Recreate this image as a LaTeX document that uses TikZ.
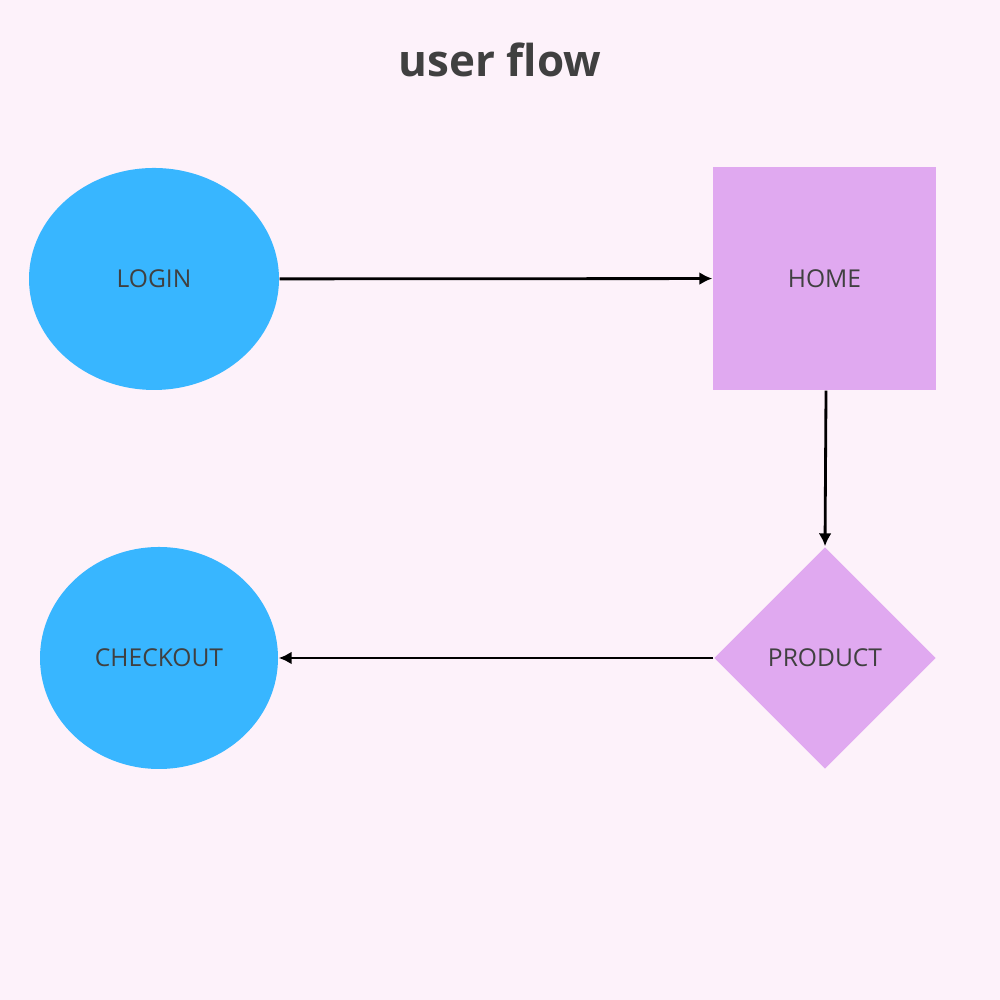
\documentclass[tikz,border=0pt]{standalone}
\usepackage{fontspec}
\setmainfont{Open Sans}
\usepackage{tikz}
\usetikzlibrary{positioning,shapes.geometric,arrows.meta}
\definecolor{bgpink}{HTML}{FDF2FA}
\definecolor{skyblue}{HTML}{38B6FF}
\definecolor{lilac}{HTML}{E0A9F0}
\definecolor{inkgray}{HTML}{404040}
\begin{document}
\begin{tikzpicture}[
    roundpage/.style={ellipse, fill=skyblue, inner sep=0pt, text=inkgray, font=\fontsize{7}{8}\selectfont},
    squarepage/.style={rectangle, fill=lilac, inner sep=0pt, minimum width=2.23cm, minimum height=2.23cm, text=inkgray, font=\fontsize{7}{8}\selectfont},
    choicepage/.style={diamond, aspect=1, fill=lilac, inner sep=0pt, minimum width=2.22cm, minimum height=2.22cm, text=inkgray, font=\fontsize{7}{8}\selectfont},
    flow/.style={-{Latex[length=1.3mm,width=1.3mm]}, line width=0.8pt, black}
]
    \fill[bgpink] (0,0) rectangle (10,10);
    \useasboundingbox (0,0) rectangle (10,10);

    \node[text=inkgray, font=\fontsize{12.5}{14}\selectfont\bfseries] (title) at (5,9.4) {user flow};

    \node[roundpage, minimum width=2.5cm, minimum height=2.22cm] (login) at (1.54,7.21) {LOGIN};
    \node[squarepage] (home) at (8.245,7.215) {HOME};
    \node[choicepage] (product) at (8.25,3.42) {PRODUCT};
    \node[roundpage, minimum width=2.38cm, minimum height=2.22cm] (checkout) at (1.59,3.42) {CHECKOUT};

    \draw[flow] (login) -- (home);
    \draw[flow] (home.south) ++(0.015,0) coordinate (homefoot) (homefoot) -- (product.north);
    \draw[flow] (product) -- (checkout);
\end{tikzpicture}
\end{document}
